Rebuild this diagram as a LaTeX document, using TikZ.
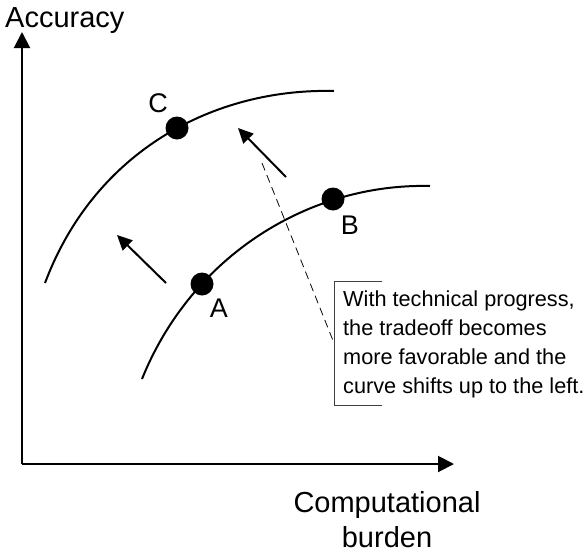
\documentclass[tikz,border=0pt]{standalone}
\usepackage{fontspec}
\setmainfont{Liberation Sans}
\usepackage{tikz}
\usetikzlibrary{arrows.meta,positioning}

\begin{document}
\begin{tikzpicture}[
    x=1pt, y=-1pt,
    axis/.style={line width=2pt, -{Triangle[length=16pt, width=16pt]}},
    curve/.style={line width=2pt},
    shiftarr/.style={line width=2pt, -{Triangle[length=15pt, width=14pt]}},
    dot/.style={circle, fill=black, inner sep=0pt, minimum size=23pt},
    ptlabel/.style={inner sep=0pt, font=\fontsize{27}{32}\selectfont},
    axlabel/.style={inner sep=0pt, font=\fontsize{29}{35}\selectfont},
    note/.style={inner sep=0pt, align=left, font=\fontsize{21.7}{28.7}\selectfont}
]
\useasboundingbox (0,0) rectangle (584,555);

% axes
\coordinate (origin) at (22,464);
\coordinate (ytip) at (22,32);
\coordinate (xtip) at (454,464);
\draw[axis] (origin) -- (ytip);
\draw[axis] (origin) -- (xtip);
\node[axlabel, anchor=base west] (acc) at (5,27) {Accuracy};
\node[axlabel, anchor=north, align=center] (burden) at (387,491) {Computational\\burden};

% tradeoff curves
\draw[curve] (142,379) .. controls (192,255) and (310,183) .. (430,186);
\draw[curve] (45,283) .. controls (95,150) and (215,88) .. (334,91);

% points
\node[dot] (A) at (202,284) {};
\node[dot] (B) at (333,199) {};
\node[dot] (C) at (177,128) {};
\node[ptlabel] (labA) at (219,308) {A};
\node[ptlabel] (labB) at (350,225) {B};
\node[ptlabel] (labC) at (158,103) {C};

% shift arrows
\coordinate (s1) at (166,283);
\coordinate (e1) at (117,235);
\coordinate (s2) at (286,177);
\coordinate (e2) at (238,128);
\draw[shiftarr] (s1) -- (e1);
\draw[shiftarr] (s2) -- (e2);

% annotation
\node[note, anchor=north west] (txt) at (343,291) {With technical progress,\\the tradeoff becomes\\more favorable and the\\curve shifts up to the left.};
\coordinate (btop) at (334,281);
\coordinate (bbot) at (334,405);
\coordinate (bmid) at (334,343);
\draw[line width=0.8pt, black!75] (382,281) -- (btop) -- (bbot) -- (382,405);
\coordinate (tail) at (262,163);
\draw[line width=0.8pt, dash pattern=on 8pt off 5pt] (tail) -- (bmid);
\end{tikzpicture}
\end{document}
